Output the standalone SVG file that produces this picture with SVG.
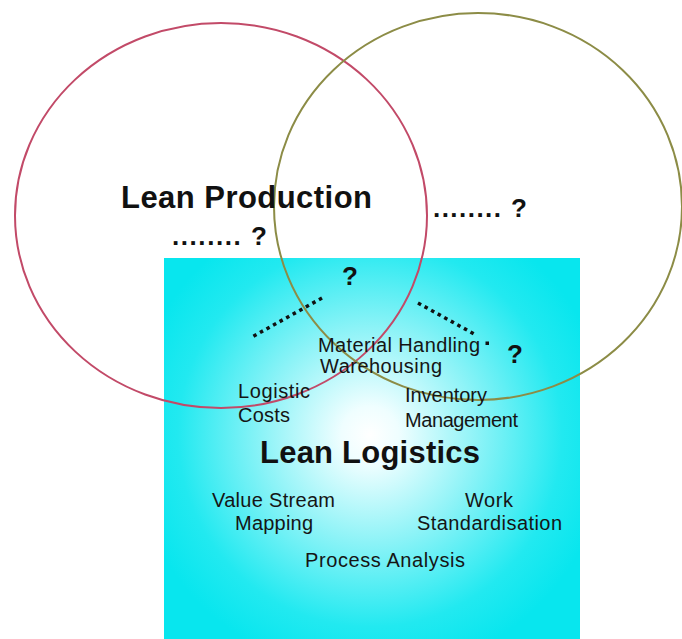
<svg xmlns="http://www.w3.org/2000/svg" width="682" height="639" viewBox="0 0 682 639">
  <defs>
    <radialGradient id="glow" gradientUnits="userSpaceOnUse" cx="370" cy="435" r="240">
      <stop offset="0" stop-color="#ffffff"/>
      <stop offset="0.12" stop-color="#effeff"/>
      <stop offset="0.45" stop-color="#8cf3f7"/>
      <stop offset="0.8" stop-color="#22e9f0"/>
      <stop offset="1" stop-color="#08e6ee"/>
    </radialGradient>
    <style>
      .ring { fill: none; stroke-width: 2; }
      .title { font-family: "Liberation Sans", Arial, sans-serif; font-weight: bold; font-size: 31px; fill: #111; }
      .mark { font-family: "Liberation Sans", Arial, sans-serif; font-weight: bold; font-size: 26px; fill: #111; }
      .item { font-family: "Liberation Sans", Arial, sans-serif; font-size: 20px; fill: #151515; }
      .dots { fill: none; stroke: #111; stroke-width: 3.5; stroke-dasharray: 3.5 4; }
    </style>
  </defs>

  <rect x="0" y="0" width="682" height="639" fill="#ffffff"/>

  <!-- Lean Logistics area -->
  <g id="lean-logistics-area">
    <rect x="164" y="258" width="416" height="381" fill="url(#glow)"/>
  </g>

  <!-- Lean Production circle -->
  <g id="lean-production">
    <ellipse class="ring" cx="221" cy="215.5" rx="206" ry="192.5" stroke="#c24a68"/>
  </g>

  <!-- Unknown third field -->
  <g id="unknown-field">
    <ellipse class="ring" cx="478" cy="206.5" rx="204" ry="193.5" stroke="#8c8c46"/>
  </g>

  <!-- Dotted connectors -->
  <g id="connectors">
    <line class="dots" x1="322" y1="298" x2="252" y2="337"/>
    <line class="dots" x1="418" y1="303" x2="476" y2="335"/>
    <rect x="485.5" y="341.5" width="3.5" height="3.5" fill="#111"/>
  </g>

  <!-- Labels -->
  <g id="label-lean-production">
    <text class="title" x="121" y="208" textLength="251" lengthAdjust="spacing">Lean Production</text>
  </g>
  <g id="label-production-open">
    <text class="mark" x="172" y="245" textLength="95" lengthAdjust="spacing">........ ?</text>
  </g>
  <g id="label-field-open">
    <text class="mark" x="433" y="217" textLength="94" lengthAdjust="spacing">........ ?</text>
  </g>
  <g id="label-overlap-top">
    <text class="mark" x="342" y="285">?</text>
  </g>
  <g id="label-overlap-right">
    <text class="mark" x="507" y="363">?</text>
  </g>
  <g id="label-lean-logistics">
    <text class="title" x="260" y="463" textLength="220" lengthAdjust="spacing">Lean Logistics</text>
  </g>

  <g id="topic-material-handling">
    <text class="item" x="318" y="352" textLength="162" lengthAdjust="spacing">Material Handling</text>
    <text class="item" x="320" y="373" textLength="122" lengthAdjust="spacing">Warehousing</text>
  </g>
  <g id="topic-logistic-costs">
    <text class="item" x="238" y="398" textLength="72" lengthAdjust="spacing">Logistic</text>
    <text class="item" x="238" y="422" textLength="52" lengthAdjust="spacing">Costs</text>
  </g>
  <g id="topic-inventory">
    <text class="item" x="405" y="402" textLength="82" lengthAdjust="spacing">Inventory</text>
    <text class="item" x="405" y="427" textLength="113" lengthAdjust="spacing">Management</text>
  </g>
  <g id="topic-value-stream">
    <text class="item" x="212" y="507" textLength="123" lengthAdjust="spacing">Value Stream</text>
    <text class="item" x="235" y="530" textLength="78" lengthAdjust="spacing">Mapping</text>
  </g>
  <g id="topic-work-standardisation">
    <text class="item" x="465" y="507" textLength="48" lengthAdjust="spacing">Work</text>
    <text class="item" x="417" y="530" textLength="145" lengthAdjust="spacing">Standardisation</text>
  </g>
  <g id="topic-process-analysis">
    <text class="item" x="305" y="567" textLength="160" lengthAdjust="spacing">Process Analysis</text>
  </g>
</svg>
